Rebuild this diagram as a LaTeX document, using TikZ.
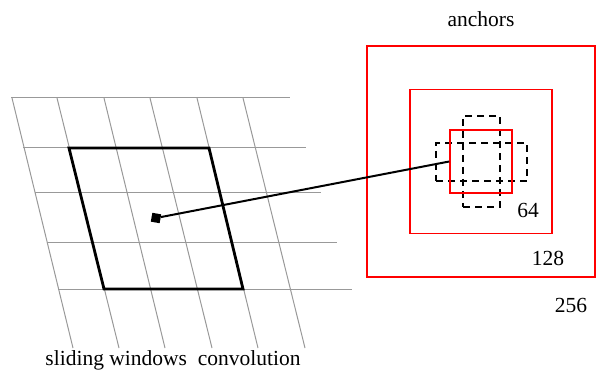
\documentclass[tikz,border=0pt]{standalone}
\usepackage{fontspec}
\setmainfont{Liberation Serif}
\usetikzlibrary{positioning}

\begin{document}
\begin{tikzpicture}[x=1pt, y=-1pt,
  every node/.style={font=\fontsize{21.5}{24}\selectfont},
  gridline/.style={gray!80, line width=1pt},
  window/.style  ={draw, line width=2.8pt},
  anchorbox/.style={rectangle, draw=red, line width=1.6pt, inner sep=0pt},
  shifted/.style ={rectangle, draw, dash pattern=on 7pt off 5pt, line width=1.5pt, inner sep=0pt},
  link/.style    ={line width=2pt},
]
\useasboundingbox (0,0) rectangle (596,371);

% Feature map grid
\foreach \y/\xl/\xr in {98/11/290, 148/23/306, 193/35/321, 242/47/337, 289/58/352}
  \draw[gridline] (\xl,\y) -- (\xr,\y);
\foreach \xt/\xb in {12/73, 57/119, 104/165, 150/212, 197/258, 243/305}
  \draw[gridline] (\xt,98) -- (\xb,348);

% Sliding window
\draw[window] (69,148) -- (209,148) -- (243,289) -- (104,289) -- cycle;
\node[fill, minimum size=9pt, inner sep=0pt, rotate=-10] (win) at (156,218) {};
\node[anchor=base] (caption) at (173,365) {sliding windows\enspace convolution};

% Anchors
\node[shifted, minimum width=37pt, minimum height=91pt] (a64v) at (481.5,161.5) {};
\node[shifted, minimum width=91pt, minimum height=38pt] (a64h) at (481.5,162) {};
\node[anchorbox, minimum width=62pt, minimum height=63pt] (a64) at (481,161.5) {};
\node[anchorbox, minimum width=142pt, minimum height=144pt] (a128) at (a64) {};
\node[anchorbox, minimum width=228pt, minimum height=231pt] (a256) at (a64) {};

\node[anchor=base] (title) at (481,27) {anchors};
\node[anchor=base] (lbl64)  at (528,218) {64};
\node[anchor=base] (lbl128) at (548,265) {128};
\node[anchor=base] (lbl256) at (571,312) {256};

% Window to anchor centre
\draw[link] (win) -- (a64.west);
\end{tikzpicture}
\end{document}
